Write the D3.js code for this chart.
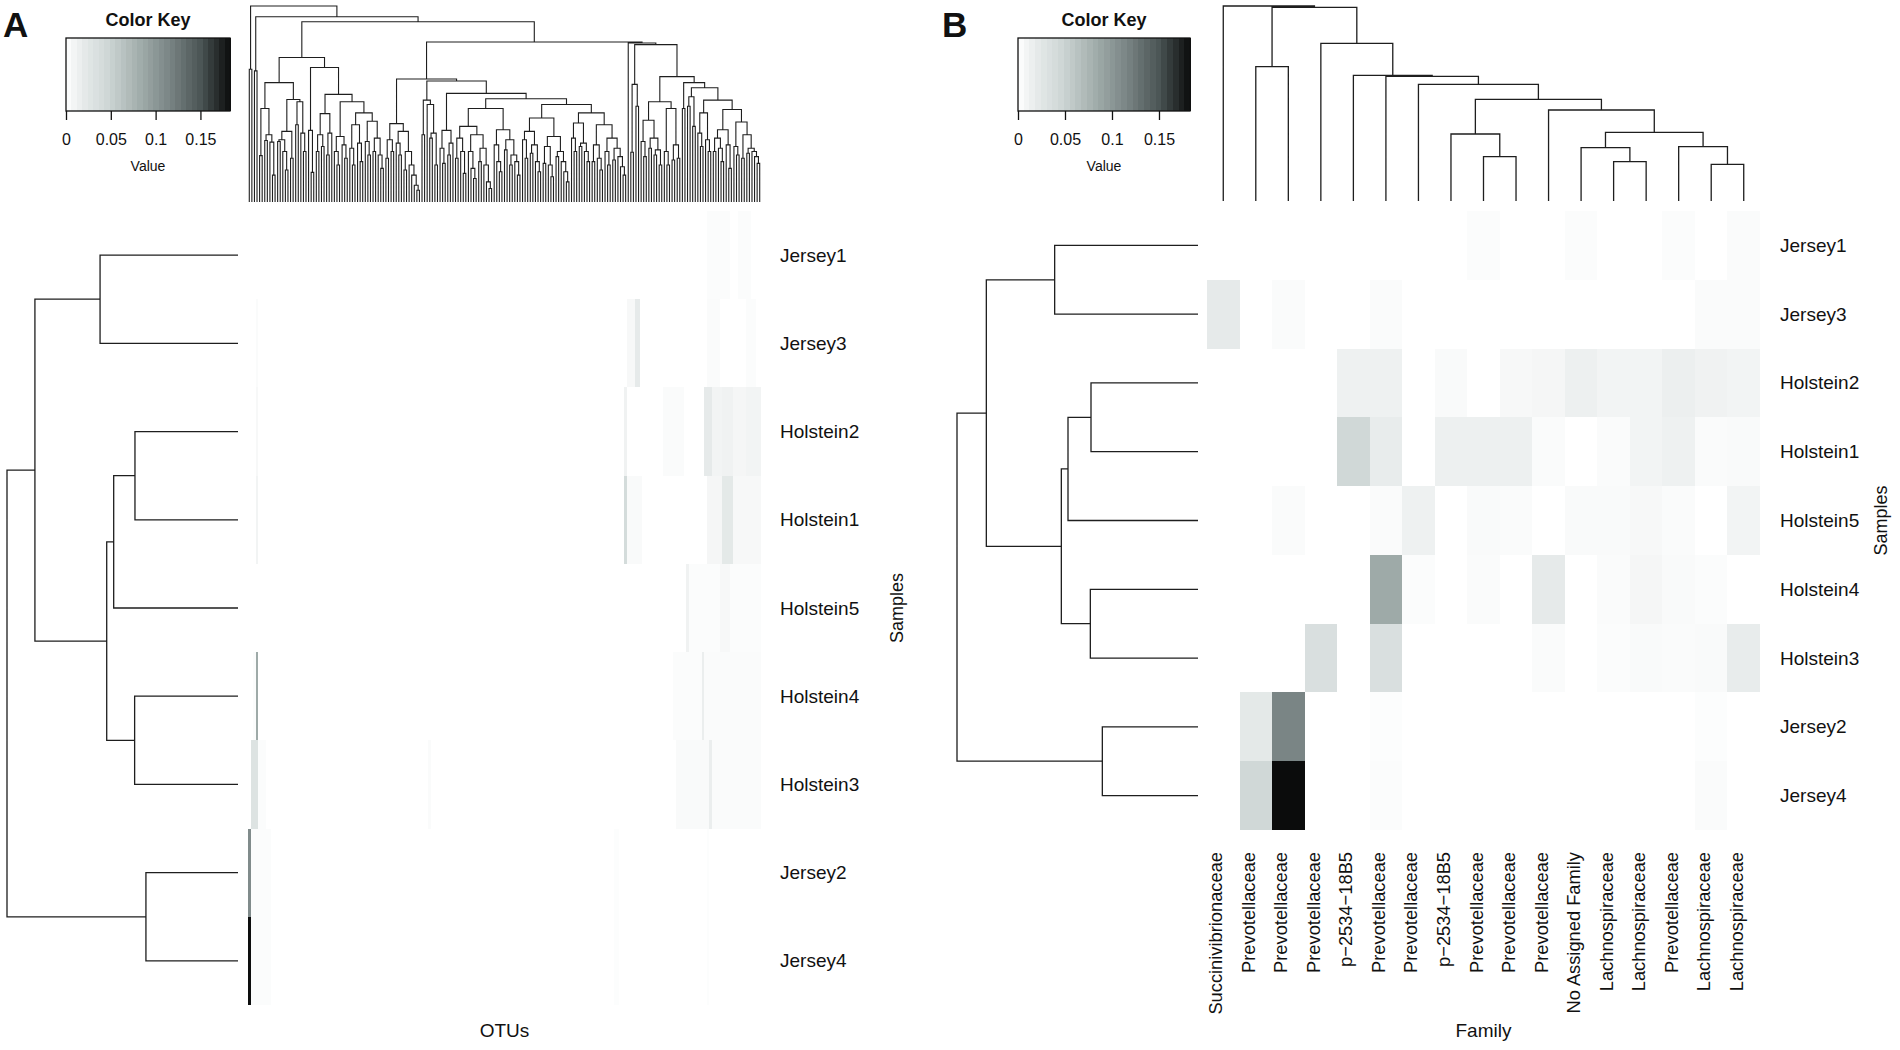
<!DOCTYPE html>
<html><head><meta charset="utf-8">
<script src="https://cdn.jsdelivr.net/npm/d3@7"></script>
<style>
body{margin:0;background:#fff;}
svg text{font-family:"Liberation Sans",Arial,Helvetica,sans-serif;fill:#111;}
</style></head><body>
<svg id="chart" width="1900" height="1050"></svg>
<script>
// ---------------- DATA ----------------
const samples = ["Jersey1","Jersey3","Holstein2","Holstein1","Holstein5","Holstein4","Holstein3","Jersey2","Jersey4"];
const families = ["Succinivibrionaceae","Prevotellaceae","Prevotellaceae","Prevotellaceae","p\u22122534\u221218B5","Prevotellaceae","Prevotellaceae","p\u22122534\u221218B5","Prevotellaceae","Prevotellaceae","Prevotellaceae","No Assigned Family","Lachnospiraceae","Lachnospiraceae","Prevotellaceae","Lachnospiraceae","Lachnospiraceae"];
// panel B values (rows = samples, cols = families)
const familyValues = [
  [0,0,0,0,0,0,0,0,0.003,0,0,0.003,0,0,0.003,0,0.004],
  [0.02,0,0.004,0,0,0.004,0,0,0,0,0,0,0,0,0,0.004,0.004],
  [0,0,0,0,0.013,0.013,0,0.005,0,0.006,0.008,0.014,0.01,0.01,0.015,0.012,0.01],
  [0,0,0,0,0.045,0.018,0,0.014,0.014,0.014,0.004,0,0.004,0.01,0.013,0.004,0.005],
  [0,0,0.004,0,0,0.004,0.013,0,0.005,0.004,0,0.005,0.005,0.006,0.004,0,0.01],
  [0,0,0,0,0,0.085,0.003,0,0.004,0,0.02,0,0.004,0.008,0.005,0.003,0],
  [0,0,0,0.035,0,0.035,0,0,0,0,0.004,0,0.003,0.005,0.004,0.005,0.018],
  [0,0.022,0.115,0,0,0.002,0,0,0,0,0,0,0,0,0,0.002,0],
  [0,0.045,0.183,0,0,0.003,0,0,0,0,0,0,0,0,0,0.004,0]
];
// panel A values: non-zero runs per sample [firstOTU, lastOTU, value]
const otuRunsJersey1   = [[178,186,0.003],[190,194,0.003]];
const otuRunsJersey3   = [[3,3,0.004],[147,149,0.006],[150,151,0.02],[178,182,0.004],[193,196,0.003]];
const otuRunsHolstein2 = [[3,3,0.006],[146,146,0.012],[161,168,0.004],[177,179,0.02],[180,183,0.01],[184,187,0.012],[188,192,0.008],[193,198,0.01]];
const otuRunsHolstein1 = [[3,3,0.01],[146,146,0.04],[147,152,0.005],[178,183,0.008],[184,187,0.022],[188,198,0.006]];
const otuRunsHolstein5 = [[170,170,0.012],[171,182,0.003],[183,186,0.006],[187,198,0.003]];
const otuRunsHolstein4 = [[2,2,0.003],[3,3,0.085],[165,175,0.003],[176,176,0.016],[177,198,0.004]];
const otuRunsHolstein3 = [[1,3,0.03],[4,6,0.003],[70,70,0.004],[166,178,0.005],[179,179,0.016],[180,198,0.004]];
const otuRunsJersey2   = [[0,0,0.11],[1,8,0.003],[142,143,0.002],[178,178,0.002]];
const otuRunsJersey4   = [[0,0,0.182],[1,8,0.003],[142,143,0.002],[178,178,0.002]];
const otuRuns = [otuRunsJersey1,otuRunsJersey3,otuRunsHolstein2,otuRunsHolstein1,otuRunsHolstein5,otuRunsHolstein4,otuRunsHolstein3,otuRunsJersey2,otuRunsJersey4];

// colour key
const keyTicks = [0,0.05,0.1,0.15];
const keyMax = 0.183;
const keyStopValues = [0,0.01,0.02,0.045,0.085,0.115,0.15,0.183];
const keyStopColors = ["#ffffff","#f2f4f4","#e6eaea","#d0d8d7","#9eaaa8","#7a8585","#4b5555","#0b0c0c"];

// dendrograms (Newick, internal label = merge height)
const rowTreeA = "(((Jersey1,Jersey3)415,(((Holstein2,Holstein1)310,Holstein5)374,(Holstein4,Holstein3)311)395)611,(Jersey2,Jersey4)277)695";
const rowTreeB = "(((Jersey1,Jersey3)430,(((Holstein2,Holstein1)321,Holstein5)390,(Holstein4,Holstein3)323)410)635,(Jersey2,Jersey4)287)723";
const colTreeB = "(f0,((f1,f2)403,(f3,(f4,(f5,(f6,((f7,(f8,f9)133)201,(f10,((f11,(f12,f13)118)160,(f14,(f15,f16)110)163)206)273)305)350)374)377)473)581)585";
// OTU tree pieces
const otuA = "(o,o)395";
const otuB = "(o,o)390";
const otuL1 = "(((o,o)138,((o,o)183,(o,(o,o)80)178)200)278,((((o,o)180,(o,(o,o)95)150)185,(o,o)130)210,((o,o)230,(o,(o,o)150)205)298)305)355";
const otuL2 = "((o,(o,o)88)213,((((o,o)150,(o,o)165)200,((o,o)140,o)205)263,(((o,(o,o)110)150,(o,(o,o)130)170)195,(((o,(o,o)110)160,(o,(o,o)120)175)230,((o,(o,o)140)180,((o,o)150,(o,(o,o)100)140)190)240)265)298)320)400";
const otuM1 = "(((o,o)130,(o,o)150)185,((o,(o,o)140)175,((o,o)95,(o,(o,(o,(o,o)35)50)80)110)150)210)233";
const otuM2a = "((o,o)200,(o,((o,o)190,(o,o)110)205)290)303";
const otuM2b1 = "((o,(o,o)115)160,((o,o)140,o)175)213";
const otuM2b2a = "((((o,o)130,(o,(o,o)85)150)190,((o,(o,(o,o)70)100)150,((o,o)120,(o,(o,(o,o)40)60)110)160)200)225,((o,(o,(o,o)90)120)170,((o,o)155,((o,o)110,(o,(o,o)80)120)140)185)215)278";
const otuM2b2b = "((((o,(o,o)130)185,((o,o)145,(o,(o,o)90)120)170)210,(((o,o)115,(o,(o,o)75)110)165,((o,o)135,(o,(o,(o,o)60)90)120)150)195)250,(((o,(o,o)150)190,((o,o)165,(o,(o,o)120)150)175)235,(((o,o)120,(o,(o,o)95)130)170,((o,(o,o)110)150,((o,o)125,(o,(o,(o,o)80)105)135)160)190)230)265)290";
const otuR1 = "((o,o)148,(o,o)285)350";
const otuR2a = "(((o,(o,o)135)180,((o,o)160,((o,o)140,(o,o)110)155)190)243,((o,(o,o)110)150,((o,o)125,(o,o)130)170)278)298";
const otuR2b = "((o,o)278,(((o,o)285,(o,o)225)313,(((o,(o,o)165)205,(o,(o,o)150)185)265,((((o,o)150,(o,(o,o)120)160)190,(o,(o,o)100)170)215,((o,(o,o)140)165,((o,o)130,((o,o)145,(o,(o,(o,o)115)135)150)160)200)238)275)303)340)355";

// ---------------- HELPERS ----------------
function parseNewick(s){
  let i=0;
  function node(){
    if(s[i]==="("){
      i++; const children=[node()];
      while(s[i]===","){i++; children.push(node());}
      i++;
      let num=""; while(i<s.length && /[0-9.]/.test(s[i])) num+=s[i++];
      return {children, h:+num};
    }
    let name=""; while(i<s.length && !/[,()]/.test(s[i])) name+=s[i++];
    return {name, h:0};
  }
  return node();
}
function layoutTree(str){
  const root = d3.hierarchy(parseNewick(str));
  const leaves = root.leaves();
  leaves.forEach((l,i)=>l.pos=i);
  root.eachAfter(n=>{ if(n.children) n.pos=(n.children[0].pos+n.children[n.children.length-1].pos)/2; });
  return {root, leaves};
}
const svg = d3.select("#chart");
const color = d3.scaleLinear().domain(keyStopValues).range(keyStopColors).clamp(true);

function drawTopDendro(str, x0, x1, yLeaf, yTop, sw){
  const {root, leaves} = layoutTree(str);
  const x = d3.scaleLinear().domain([-0.5, leaves.length-0.5]).range([x0,x1]);
  const y = d3.scaleLinear().domain([0, root.data.h]).range([yLeaf, yTop]);
  const p = d3.path();
  root.descendants().filter(d=>d.children).forEach(n=>{
    const c1=n.children[0], c2=n.children[n.children.length-1];
    p.moveTo(x(c1.pos), y(c1.data.h)); p.lineTo(x(c1.pos), y(n.data.h));
    p.lineTo(x(c2.pos), y(n.data.h)); p.lineTo(x(c2.pos), y(c2.data.h));
  });
  svg.append("path").attr("d", p.toString()).attr("fill","none").attr("stroke","#1e1e1e").attr("stroke-width",sw);
  return leaves.length;
}
function drawLeftDendro(str, xLeaf, xRoot, y0, y1, sw){
  const {root, leaves} = layoutTree(str);
  const y = d3.scaleLinear().domain([-0.5, leaves.length-0.5]).range([y0,y1]);
  const x = d3.scaleLinear().domain([0, root.data.h]).range([xLeaf, xRoot]);
  const p = d3.path();
  root.descendants().filter(d=>d.children).forEach(n=>{
    const c1=n.children[0], c2=n.children[n.children.length-1];
    p.moveTo(x(c1.data.h), y(c1.pos)); p.lineTo(x(n.data.h), y(c1.pos));
    p.lineTo(x(n.data.h), y(c2.pos)); p.lineTo(x(c2.data.h), y(c2.pos));
  });
  svg.append("path").attr("d", p.toString()).attr("fill","none").attr("stroke","#1e1e1e").attr("stroke-width",sw);
}
function drawKey(x0, x1, y0, y1, label, lx){
  const g = svg.append("g");
  const ks = d3.scaleLinear().domain([0,keyMax]).range([x0,x1]);
  const bins = d3.range(0, 30);
  const bw = keyMax/30;
  g.selectAll("rect.bin").data(bins).join("rect")
    .attr("x", d=>ks(d*bw)).attr("y", y0)
    .attr("width", d=>ks((d+1)*bw)-ks(d*bw)+0.5).attr("height", y1-y0)
    .attr("fill", d=>color((d+0.5)*bw)).attr("shape-rendering","crispEdges");
  g.append("rect").attr("x",x0).attr("y",y0).attr("width",x1-x0).attr("height",y1-y0)
    .attr("fill","none").attr("stroke","#111").attr("stroke-width",1.3);
  const ax = g.append("g").attr("transform",`translate(0,${y1})`)
    .call(d3.axisBottom(ks).tickValues(keyTicks).tickSize(9).tickPadding(14).tickFormat(d3.format("~g")));
  ax.select(".domain").remove();
  ax.selectAll("line").attr("stroke","#111").attr("stroke-width",1.3);
  ax.selectAll("text").attr("font-size",16).attr("fill","#111").attr("font-family","Liberation Sans, Arial, sans-serif");
  g.append("text").attr("x",(x0+x1)/2).attr("y",y0-12).attr("text-anchor","middle")
    .attr("font-size",18).attr("font-weight","bold").text("Color Key");
  g.append("text").attr("x",(x0+x1)/2).attr("y",y1+60).attr("text-anchor","middle")
    .attr("font-size",14).text("Value");
  svg.append("text").attr("x",lx).attr("y",37).attr("font-size",35).attr("font-weight","bold").text(label);
}

// ---------------- PANEL A ----------------
const otuTree = "(" + otuA + ",(" + otuB + ",((" + otuL1 + "," + otuL2 + ")430,((" + otuM1 + ",(" + otuM2a + ",(" + otuM2b1 + ",(" + otuM2b2a + "," + otuM2b2b + ")307)323)360)366,(o,(" + otuR1 + ",(" + otuR2a + "," + otuR2b + ")373)468)473)476)536)551)583";

const A = {x0:248, x1:761, y0:211, y1:1005};
const nOtu = drawTopDendro(otuTree, A.x0, A.x1, 202, 6, 1.1);
const otuIdx = d3.range(nOtu);
const matA = samples.map((s,r)=>{
  const row = otuIdx.map(()=>0);
  otuRuns[r].forEach(([a,b,v])=>{ for(let c=a;c<=b;c++) row[c]=v; });
  return row;
});
const xA = d3.scaleBand().domain(otuIdx).range([A.x0,A.x1]);
const yA = d3.scaleBand().domain(samples).range([A.y0,A.y1]);
svg.append("g").selectAll("g").data(matA).join("g")
  .each(function(row,r){
    d3.select(this).selectAll("rect").data(row).join("rect")
      .attr("x",(d,c)=>xA(c)).attr("y",yA(samples[r]))
      .attr("width",xA.bandwidth()+0.3).attr("height",yA.bandwidth())
      .attr("fill",d=>color(d)).attr("shape-rendering","crispEdges");
  });
drawLeftDendro(rowTreeA, 238, 7, A.y0, A.y1, 1.3);
svg.append("g").selectAll("text").data(samples).join("text")
  .attr("x",780).attr("y",d=>yA(d)+yA.bandwidth()/2).attr("dominant-baseline","central")
  .attr("font-size",19).text(d=>d);
svg.append("text").attr("transform",`translate(897,${(A.y0+A.y1)/2}) rotate(-90)`)
  .attr("text-anchor","middle").attr("dominant-baseline","central").attr("font-size",18).text("Samples");
svg.append("text").attr("x",(A.x0+A.x1)/2).attr("y",1037).attr("text-anchor","middle").attr("font-size",19).text("OTUs");
drawKey(66, 230, 38, 111, "A", 3);

// ---------------- PANEL B ----------------
const B = {x0:1207, x1:1760, y0:211, y1:830};
drawTopDendro(colTreeB, B.x0, B.x1, 201, 6, 1.3);
const colIdx = d3.range(families.length);
const xB = d3.scaleBand().domain(colIdx).range([B.x0,B.x1]);
const yB = d3.scaleBand().domain(samples).range([B.y0,B.y1]);
svg.append("g").selectAll("g").data(familyValues).join("g")
  .each(function(row,r){
    d3.select(this).selectAll("rect").data(row).join("rect")
      .attr("x",(d,c)=>xB(c)).attr("y",yB(samples[r]))
      .attr("width",xB.bandwidth()+0.3).attr("height",yB.bandwidth()+0.3)
      .attr("fill",d=>color(d)).attr("shape-rendering","crispEdges");
  });
drawLeftDendro(rowTreeB, 1198, 957, B.y0, B.y1, 1.3);
svg.append("g").selectAll("text").data(samples).join("text")
  .attr("x",1780).attr("y",d=>yB(d)+yB.bandwidth()/2).attr("dominant-baseline","central")
  .attr("font-size",19).text(d=>d);
svg.append("g").selectAll("text").data(families).join("text")
  .attr("transform",(d,i)=>`translate(${xB(i)+xB.bandwidth()/2-1},852) rotate(-90)`)
  .attr("text-anchor","end").attr("font-size",18.3).text(d=>d);
svg.append("text").attr("transform",`translate(1881,${(B.y0+B.y1)/2}) rotate(-90)`)
  .attr("text-anchor","middle").attr("dominant-baseline","central").attr("font-size",18).text("Samples");
svg.append("text").attr("x",(B.x0+B.x1)/2).attr("y",1037).attr("text-anchor","middle").attr("font-size",19).text("Family");
drawKey(1018, 1190, 38, 111, "B", 942);
</script>
</body></html>
